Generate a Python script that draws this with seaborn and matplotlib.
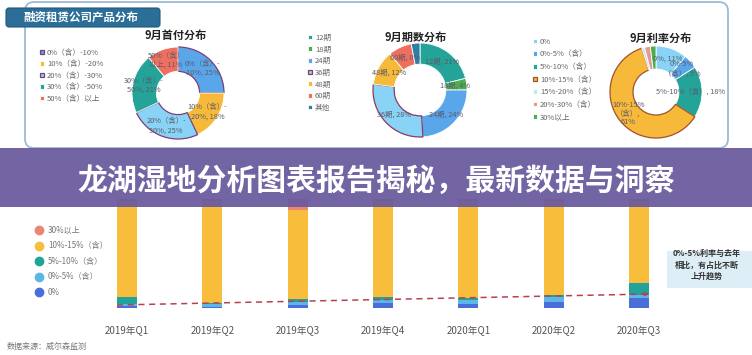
import numpy as np
import pandas as pd
import matplotlib.pyplot as plt
import seaborn as sns
from matplotlib.patches import FancyBboxPatch, Rectangle
from matplotlib.lines import Line2D

W, H = 752, 355

# 9月首付分布
down_labels = ["0%（含）-10%", "10%（含）-20%", "20%（含）-30%", "30%（含）-50%", "50%（含）以上"]
down_values = [25, 18, 25, 21, 11]
down_colors = ["#5aa6ea", "#f7b93a", "#88d3f6", "#24a399", "#ef6f5e"]

# 9月期数分布
term_labels = ["12期", "18期", "24期", "36期", "48期", "60期", "其他"]
term_values = [21, 4, 24, 28, 12, 8, 3]
term_colors = ["#24a399", "#4cae4f", "#5aa6ea", "#88d3f6", "#f7b93a", "#ef6f5e", "#2f7ea3"]

# 9月利率分布
rate_labels = ["0%", "0%-5%（含）", "5%-10%（含）", "10%-15%（含）", "15%-20%（含）", "20%-30%（含）", "30%以上"]
rate_values = [11, 5, 18, 61, 1, 2, 2]
rate_colors = ["#88d3f6", "#5aa6ea", "#24a399", "#f7b93a", "#bfe9f7", "#e59a8c", "#4cae4f"]
rate_texts = ["0%, 11%", "0%-5%\n（含）, 5%", "5%-10%（含）, 18%", "10%-15%\n（含）,\n61%", "", "", ""]

# 季度利率分布 (%)
quarters = ["2019年Q1", "2019年Q2", "2019年Q3", "2019年Q4", "2020年Q1", "2020年Q2", "2020年Q3"]
r_0 = [2, 0.5, 2.5, 4, 3, 5.5, 9]
r_0_5 = [1, 2.5, 3, 3, 4, 4.5, 3]
r_5_10 = [7, 1, 2.5, 3, 2, 2, 11]
r_10_15 = [88, 94, 82, 88, 89, 86, 75]
r_30 = [2, 2, 10, 2, 2, 2, 2]
trend = [2.5, 12.6]  # 0%-5% 占比趋势 (首末季度)

bar_colors = {"0%": "#4a6fd8", "0%-5%（含）": "#5cb6e6", "5%-10%（含）": "#22a29a",
              "10%-15%（含）": "#f8bd3b", "30%以上": "#ec8670"}


def px_box(x, y, w, h):
    return [x / W, 1 - (y + h) / H, w / W, h / H]


def split_label(lab, v):
    if "-" in lab:
        a, b = lab.split("-", 1)
        return f"{a}-\n{b}, {v}%"
    a, b = lab.split("）", 1)
    return f"{a}）\n{b}, {v}%"


sns.set_theme(style="white")
plt.rcParams["font.family"] = ["Noto Sans CJK SC", "DejaVu Sans"]

fig = plt.figure(figsize=(W / 100, H / 100), dpi=100)
fig.patch.set_facecolor("white")

# background layer (frame, tab, titles)
bg = fig.add_axes([0, 0, 1, 1])
bg.set_xlim(0, W)
bg.set_ylim(H, 0)
bg.axis("off")
bg.set_zorder(0)

bg.add_patch(FancyBboxPatch((25, 2), 703, 146, boxstyle="round,pad=0,rounding_size=9",
                            facecolor="white", edgecolor="#9dbbd2", linewidth=1.3))
bg.add_patch(FancyBboxPatch((6, 8), 154, 19, boxstyle="round,pad=0,rounding_size=3",
                            facecolor="#2b6e98", edgecolor="#23597c", linewidth=0.8))
bg.text(23, 17.5, "融资租赁公司产品分布", color="white", fontsize=8.3, fontweight="bold",
        ha="left", va="center")
# chart title mostly hidden behind the banner
bg.text(272, 171, "2019-2020年利率分布趋势", color="#333333", fontsize=5.5, ha="center", va="center")


def donut(cx, cy, r, values, colors, texts, title, title_xy, width, ldist,
          highlight, edge):
    ax = fig.add_axes(px_box(cx - r, cy - r, 2 * r, 2 * r))
    ax.set_zorder(1)
    ax.patch.set_visible(False)
    wedges, _ = ax.pie(values, colors=colors, startangle=90, counterclock=False,
                       labels=texts, labeldistance=ldist,
                       wedgeprops=dict(width=width, edgecolor="white", linewidth=0.6),
                       textprops=dict(fontsize=5.3, color="#5b5b6b", ha="center",
                                      va="center", linespacing=1.15))
    for i in highlight:
        wedges[i].set_edgecolor(edge)
        wedges[i].set_linewidth(0.9)
    ax.set_xlim(-1, 1)
    ax.set_ylim(-1, 1)
    ax.set_aspect("equal")
    bg.text(title_xy[0], title_xy[1], title, fontsize=8, fontweight="bold", color="#222222",
            ha="center", va="center")
    return wedges


w1 = donut(178, 93, 46, down_values, down_colors,
           [split_label(l, v) for l, v in zip(down_labels, down_values)],
           "9月首付分布", (176, 35), 0.53, 0.76, [0, 2], "#7d3f78")
w2 = donut(420, 90, 47, term_values, term_colors,
           [f"{l}, {v}%" if l != "其他" else "" for l, v in zip(term_labels, term_values)],
           "9月期数分布", (416, 37), 0.45, 0.76, [3], "#8b3a62")
w3 = donut(656, 92, 46, rate_values, rate_colors, rate_texts,
           "9月利率分布", (661, 38), 0.5, 0.76, [3], "#a0522d")

leg_kw = dict(loc="upper left", frameon=False, fontsize=5.5, labelcolor="#666666",
              handlelength=0.55, handleheight=0.55, handletextpad=0.4, borderpad=0,
              bbox_transform=fig.transFigure)
fig.legend(w1, down_labels, bbox_to_anchor=(36 / W, 1 - 45 / H), labelspacing=0.45, **leg_kw)
fig.legend(w2, term_labels, bbox_to_anchor=(304 / W, 1 - 30 / H), labelspacing=0.48, **leg_kw)
fig.legend(w3, rate_labels, bbox_to_anchor=(529 / W, 1 - 34 / H), labelspacing=0.6, **leg_kw)

# stacked bars
step = 85.33
bar_w = 20 / step
ax = fig.add_axes(px_box(127 - step / 2, 199, 7 * step, 108.7))
ax.set_zorder(1)
ax.patch.set_visible(False)

stack = pd.DataFrame({"0%": r_0, "0%-5%（含）": r_0_5, "5%-10%（含）": r_5_10,
                      "10%-15%（含）": r_10_15, "30%以上": r_30}, index=quarters)
cum = stack.cumsum(axis=1)
for col in reversed(stack.columns):
    sns.barplot(x=quarters, y=cum[col].values, color=bar_colors[col], width=bar_w,
                saturation=1, linewidth=0, ax=ax)

ax.axhline(0, color="#eeeeee", linewidth=0.8, zorder=0)
x0, x1 = -bar_w / 2, len(quarters) - 1 + bar_w / 2
ax.plot([x0, x1], trend, linestyle=(0, (4, 3)), color="#b5434f", linewidth=1.1)
ax.annotate("", xy=(x1 + 0.03, trend[1]), xytext=(x1 - 0.05, trend[1] - 0.13),
            arrowprops=dict(arrowstyle="-|>", color="#b5434f", lw=0.8, mutation_scale=6))
ax.set_xlim(-0.5, len(quarters) - 0.5)
ax.set_ylim(0, 100)
ax.set_yticks([])
ax.set_xlabel("")
ax.set_ylabel("")
ax.tick_params(axis="x", length=0, pad=13, labelsize=7, labelcolor="#555555")
sns.despine(ax=ax, left=True, bottom=True)

handles = [Line2D([], [], marker="o", linestyle="", markersize=6, color=bar_colors[c])
           for c in reversed(stack.columns)]
fig.legend(handles, list(reversed(stack.columns)), loc="upper left",
           bbox_to_anchor=(31 / W, 1 - 222 / H), frameon=False, fontsize=5.8,
           labelcolor="#777777", handlelength=1.0, handletextpad=0.6, labelspacing=0.8,
           borderpad=0)

# top layer: banner, note, source
top = fig.add_axes([0, 0, 1, 1])
top.set_xlim(0, W)
top.set_ylim(H, 0)
top.axis("off")
top.set_zorder(10)
top.patch.set_visible(False)
top.add_patch(Rectangle((0, 148), W, 58.7, facecolor="#6a5a9d", alpha=0.94, linewidth=0))
top.text(376, 181, "龙湖湿地分析图表报告揭秘，最新数据与洞察", color="white", fontsize=21.5,
         fontweight="bold", ha="center", va="center")
top.add_patch(Rectangle((667, 251), 85, 37, facecolor="#ddeef6", linewidth=0))
top.text(707, 265, "0%-5%利率与去年\n相比，有占比不断\n上升趋势", color="#333333",
         fontsize=5.8, fontweight="bold", ha="center", va="center", linespacing=1.35)
top.text(7, 346, "数据来源：威尔森监测", color="#777777", fontsize=5.8, ha="left", va="center")

fig.savefig("out.png", dpi=100)
